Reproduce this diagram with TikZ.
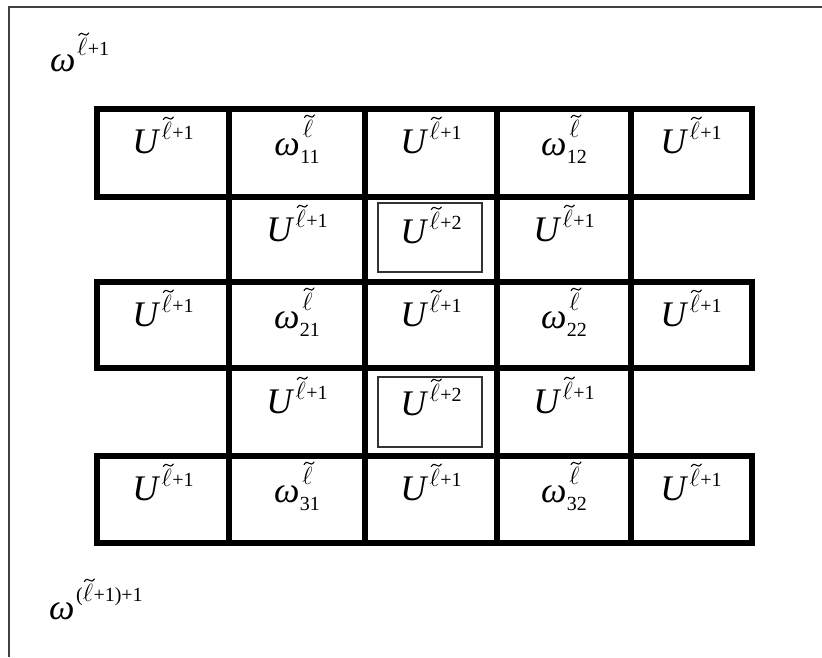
\documentclass[tikz,border=0pt]{standalone}
\usepackage{fontspec}
\setmainfont{Liberation Serif}
\newcommand\tildemark{\tikz[baseline=0pt]\draw[line width=1.1pt,line cap=round] (0pt,0pt) .. controls (1.8pt,2.8pt) and (3.4pt,2.6pt) .. (5pt,1.3pt) .. controls (6.6pt,0pt) and (8.2pt,-0.2pt) .. (10pt,2.6pt);}
\newcommand\tl{{\fontsize{24}{24}\selectfont\ooalign{$\ell$\cr\hidewidth\kern3pt\raisebox{19.5pt}{\tildemark}\hidewidth\cr}}}
\newcommand\supr[2][14pt]{\raisebox{#1}{\fontsize{20}{20}\selectfont #2}}
\newcommand\Uo{\textit{U}\kern1.5pt\supr{\tl\kern0.5pt+1}}
\newcommand\Ut{\textit{U}\kern1.5pt\supr{\tl\kern0.5pt+2}}
\newcommand\Wij[1]{\textit{ω}\kern0.5pt\rlap{\kern2.5pt\supr[18pt]{\tl}}\raisebox{-8pt}{\fontsize{20}{20}\selectfont #1}}
\tikzset{
  lab/.style={anchor=base,inner sep=0pt,font=\fontsize{36}{40}\selectfont},
  thick grid/.style={line width=6.5pt,line join=miter},
  thinbox/.style={line width=1.3pt,draw=black!80},
  frame/.style={line width=1.4pt,draw=black!75}
}
\begin{document}
\begin{tikzpicture}[x=1pt,y=-1pt]
\useasboundingbox (0,0) rectangle (822,657);
% outer frame (top and left edges visible)
\draw[frame] (822,7) -- (9,7) -- (9,657);
% thick full rows
\draw[thick grid] (97,109) rectangle (752,197);
\draw[thick grid] (97,282) rectangle (752,368);
\draw[thick grid] (97,456) rectangle (752,543);
% vertical lines through all rows
\foreach \x in {229,365,497,631}
  \draw[thick grid] (\x,109) -- (\x,543);
% inner thin boxes
\draw[thinbox] (378,203) rectangle (482,272);
\draw[thinbox] (378,377) rectangle (482,447);
% outer labels
\node[lab,anchor=base west] (wtop) at (50,71) {\textit{ω}\kern1.5pt\supr[16pt]{\tl\kern0.5pt+1}};
\node[lab,anchor=base west] (wbot) at (49,619) {\textit{ω}\kern1.5pt\supr[18pt]{(\tl\kern0.5pt+1)+1}};
% row 1
\node[lab] (c11) at (163,153) {\Uo};
\node[lab] (c12) at (297,155) {\Wij{11}};
\node[lab] (c13) at (431,153) {\Uo};
\node[lab] (c14) at (564,155) {\Wij{12}};
\node[lab] (c15) at (691,153) {\Uo};
% row 2
\node[lab] (c22) at (297,241) {\Uo};
\node[lab] (c23) at (431,243) {\Ut};
\node[lab] (c24) at (564,241) {\Uo};
% row 3
\node[lab] (c31) at (163,326) {\Uo};
\node[lab] (c32) at (297,328) {\Wij{21}};
\node[lab] (c33) at (431,326) {\Uo};
\node[lab] (c34) at (564,328) {\Wij{22}};
\node[lab] (c35) at (691,326) {\Uo};
% row 4
\node[lab] (c42) at (297,413) {\Uo};
\node[lab] (c43) at (431,415) {\Ut};
\node[lab] (c44) at (564,413) {\Uo};
% row 5
\node[lab] (c51) at (163,500) {\Uo};
\node[lab] (c52) at (297,502) {\Wij{31}};
\node[lab] (c53) at (431,500) {\Uo};
\node[lab] (c54) at (564,502) {\Wij{32}};
\node[lab] (c55) at (691,500) {\Uo};
\end{tikzpicture}
\end{document}
